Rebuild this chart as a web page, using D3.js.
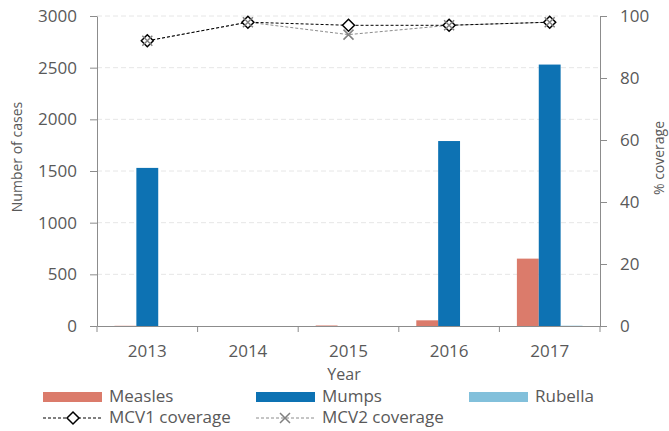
<!DOCTYPE html>
<html>
<head>
<meta charset="utf-8">
<script src="https://cdn.jsdelivr.net/npm/d3@7"></script>
<style>
  body { margin: 0; background: #fff; }
  text { font-family: "Open Sans", "Noto Sans", sans-serif; fill: #595959; }
</style>
</head>
<body>
<svg id="chart" width="669" height="431"></svg>
<script>
// chart data
var years = ["2013", "2014", "2015", "2016", "2017"];
var measles = [2, 0, 5, 55, 652];
var mumps = [1530, 0, 0, 1790, 2530];
var rubella = [0, 0, 0, 0, 3];
var mcv1 = [92, 98, 97, 97, 98];
var mcv2 = [92, 98, 94, 97, 98];
var leftTicks = [0, 500, 1000, 1500, 2000, 2500, 3000];
var rightTicks = [0, 20, 40, 60, 80, 100];

var seriesNames = ["Measles", "Mumps", "Rubella"];
var seriesColors = ["#DB7B6B", "#0D72B3", "#82C0DB"];

var svg = d3.select("#chart");
var plotLeft = 97, plotRight = 600, plotTop = 16, plotBottom = 326;

var x = d3.scaleBand().domain(years).range([plotLeft, plotRight]);
var inner = d3.scaleBand().domain(seriesNames)
    .range([0, x.bandwidth()]).paddingOuter(0.8);
var yL = d3.scaleLinear().domain([0, 3000]).range([plotBottom, plotTop]);
var yR = d3.scaleLinear().domain([0, 100]).range([plotBottom, plotTop]);

// gridlines
svg.append("g")
    .selectAll("line")
    .data(leftTicks.slice(1))
    .enter().append("line")
    .attr("x1", plotLeft).attr("x2", plotRight)
    .attr("y1", function(d) { return yL(d); })
    .attr("y2", function(d) { return yL(d); })
    .attr("stroke", "#e6e6e6")
    .attr("stroke-dasharray", "5,3");

// bars
var table = years.map(function(y, i) {
    return { year: y, values: [measles[i], mumps[i], rubella[i]] };
});
var groups = svg.append("g").selectAll("g")
    .data(table).enter().append("g")
    .attr("transform", function(d) { return "translate(" + x(d.year) + ",0)"; });
groups.selectAll("rect")
    .data(function(d) { return d.values.map(function(v, j) { return { v: v, j: j }; }); })
    .enter().append("rect")
    .attr("x", function(d) { return inner(seriesNames[d.j]); })
    .attr("width", inner.bandwidth())
    .attr("y", function(d) { return yL(d.v); })
    .attr("height", function(d) { return plotBottom - yL(d.v); })
    .attr("fill", function(d) { return seriesColors[d.j]; });

// axes
function styleAxis(g) {
    g.selectAll("path, line").attr("stroke", "#8c8c8c");
    g.selectAll("text").style("font-size", "17px").attr("fill", "#595959");
}
svg.append("g")
    .attr("transform", "translate(" + plotLeft + ",0)")
    .call(d3.axisLeft(yL).tickValues(leftTicks).tickFormat(d3.format("d"))
        .tickSize(7).tickSizeOuter(0).tickPadding(13))
    .call(styleAxis);
svg.append("g")
    .attr("transform", "translate(" + plotRight + ",0)")
    .call(d3.axisRight(yR).tickValues(rightTicks).tickFormat(d3.format("d"))
        .tickSize(7).tickSizeOuter(0).tickPadding(13))
    .call(styleAxis);
var xAxis = svg.append("g")
    .attr("transform", "translate(0," + plotBottom + ")")
    .call(d3.axisBottom(x).tickSize(0).tickPadding(19))
    .call(styleAxis);
// ticks between categories
xAxis.selectAll(".sep")
    .data(years.concat(["end"]))
    .enter().append("line")
    .attr("x1", function(d, i) { return plotLeft + i * x.step(); })
    .attr("x2", function(d, i) { return plotLeft + i * x.step(); })
    .attr("y1", 0).attr("y2", 6)
    .attr("stroke", "#8c8c8c");

// coverage lines
var covLine = d3.line()
    .x(function(d, i) { return x(years[i]) + x.bandwidth() / 2; })
    .y(function(d) { return yR(d); });
svg.append("path").datum(mcv2).attr("d", covLine)
    .attr("fill", "none").attr("stroke", "#8c8c8c").attr("stroke-dasharray", "3,2");
svg.append("path").datum(mcv1).attr("d", covLine)
    .attr("fill", "none").attr("stroke", "#000").attr("stroke-dasharray", "3,2");

function diamond(g, cx, cy) {
    g.append("path")
        .attr("d", "M" + cx + "," + (cy - 6) + "L" + (cx + 6) + "," + cy + "L" + cx + "," + (cy + 6) + "L" + (cx - 6) + "," + cy + "Z")
        .attr("fill", "#fff").attr("stroke", "#000").attr("stroke-width", 1.5);
}
function cross(g, cx, cy) {
    g.append("path")
        .attr("d", "M" + (cx - 5) + "," + (cy - 5) + "L" + (cx + 5) + "," + (cy + 5) + "M" + (cx + 5) + "," + (cy - 5) + "L" + (cx - 5) + "," + (cy + 5))
        .attr("stroke", "#808080").attr("stroke-width", 1.5);
}
var marks = svg.append("g");
mcv1.forEach(function(v, i) { diamond(marks, x(years[i]) + x.bandwidth() / 2, yR(v)); });
mcv2.forEach(function(v, i) { cross(marks, x(years[i]) + x.bandwidth() / 2, yR(v)); });

// axis titles
svg.append("text").attr("transform", "translate(22,157) rotate(-90)")
    .attr("text-anchor", "middle").style("font-size", "14px").text("Number of cases");
svg.append("text").attr("transform", "translate(664,158) rotate(-90)")
    .attr("text-anchor", "middle").style("font-size", "14px").text("% coverage");
svg.append("text").attr("x", 344).attr("y", 380)
    .attr("text-anchor", "middle").style("font-size", "16px").text("Year");

// legend
var legend = svg.append("g");
var legX = [43, 256, 469];
seriesNames.forEach(function(n, i) {
    legend.append("rect").attr("x", legX[i]).attr("y", 392).attr("width", 59).attr("height", 10)
        .attr("fill", seriesColors[i]);
    legend.append("text").attr("x", legX[i] + 66).attr("y", 402).style("font-size", "17px").text(n);
});
legend.append("line").attr("x1", 43).attr("x2", 102).attr("y1", 418).attr("y2", 418)
    .attr("stroke", "#000").attr("stroke-dasharray", "3,2");
diamond(legend, 73, 418);
legend.append("text").attr("x", 109).attr("y", 423).style("font-size", "17px").text("MCV1 coverage");
legend.append("line").attr("x1", 256).attr("x2", 315).attr("y1", 418).attr("y2", 418)
    .attr("stroke", "#8c8c8c").attr("stroke-dasharray", "3,2");
cross(legend, 285, 418);
legend.append("text").attr("x", 322).attr("y", 423).style("font-size", "17px").text("MCV2 coverage");
</script>
</body>
</html>
